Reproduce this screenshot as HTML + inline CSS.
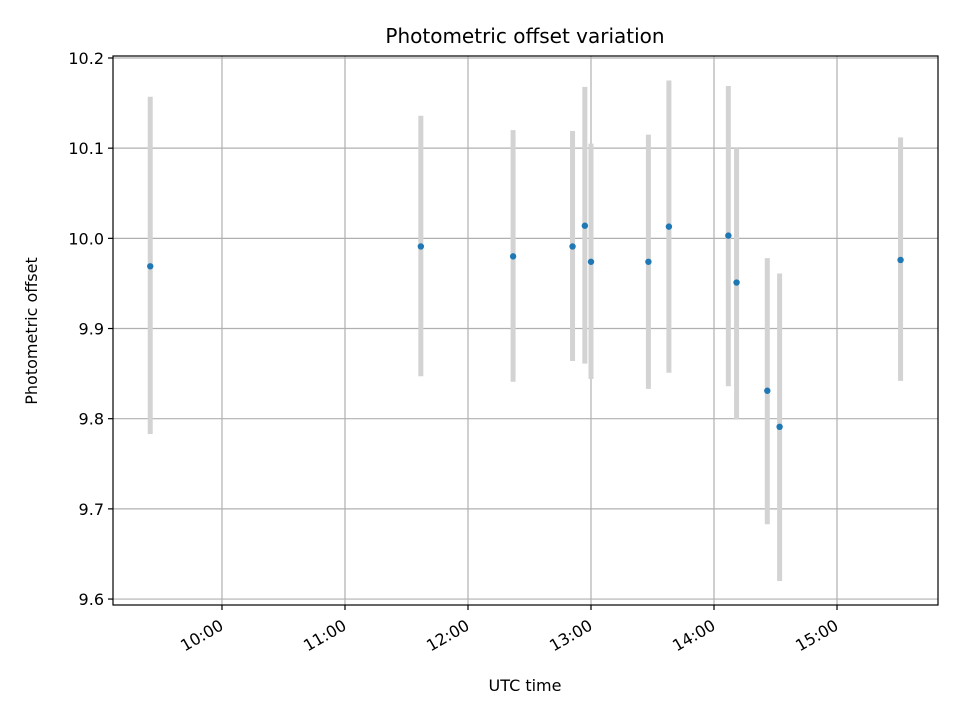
<!DOCTYPE html>
<html><head><meta charset="utf-8"><style>
body{margin:0;background:#fff}
svg{display:block;font-family:"DejaVu Sans","Liberation Sans",sans-serif}
</style></head><body>
<svg id="chart" width="960" height="720" viewBox="0 0 960 720">
<rect width="960" height="720" fill="#fff"/>
<g id="grid"></g><g id="bars"></g><g id="pts"></g><g id="ticks"></g>
<rect x="113" y="56" width="825" height="549" fill="none" stroke="#000" stroke-width="1.2"/>
<text x="525" y="43" text-anchor="middle" font-size="20">Photometric offset variation</text>
<text x="525" y="691" text-anchor="middle" font-size="16">UTC time</text>
<text transform="translate(37,331) rotate(-90)" text-anchor="middle" font-size="16">Photometric offset</text>
</svg>
<script>
const timesMin=[565,697,742,771,777,780,808,818,847,851,866,872,931];
const values=[9.969,9.991,9.980,9.991,10.014,9.974,9.974,10.013,10.003,9.951,9.831,9.791,9.976];
const errLow=[9.783,9.847,9.841,9.864,9.861,9.844,9.833,9.851,9.836,9.799,9.683,9.620,9.842];
const errHigh=[10.157,10.136,10.120,10.119,10.168,10.105,10.115,10.175,10.169,10.100,9.978,9.961,10.112];
const xTickHours=[10,11,12,13,14,15];
const xTickLabels=["10:00","11:00","12:00","13:00","14:00","15:00"];
const yTicks=[9.6,9.7,9.8,9.9,10.0,10.1,10.2];
const yTickLabels=["9.6","9.7","9.8","9.9","10.0","10.1","10.2"];
const L=113,R=938,T=56,B=605;
const xMin=9.114*60,xMax=15.821*60,yMin=9.5934,yMax=10.2022;
const X=m=>L+(m-xMin)/(xMax-xMin)*(R-L);
const Y=v=>B-(v-yMin)/(yMax-yMin)*(B-T);
const NS="http://www.w3.org/2000/svg";
function mk(tag,parent,attrs){const e=document.createElementNS(NS,tag);for(const k in attrs)e.setAttribute(k,attrs[k]);document.getElementById(parent).appendChild(e);return e;}
xTickHours.forEach((h,i)=>{const x=X(h*60);
 let g=mk('line','grid',{x1:x,x2:x,y1:T,y2:B,stroke:'#b0b0b0','stroke-width':1.2});
 
 
 let t=mk('line','ticks',{x1:x,x2:x,y1:B,y2:B+5,stroke:'#000','stroke-width':1.2});
 
 
 let l=mk('text','ticks',{'font-size':16,'text-anchor':'end',transform:`translate(${x-3},${B+14}) rotate(-30)`,dy:'0.7em'});
 l.textContent=xTickLabels[i];
 
 
});
yTicks.forEach((v,i)=>{const y=Y(v);
 let g=mk('line','grid',{x1:L,x2:R,y1:y,y2:y,stroke:'#b0b0b0','stroke-width':1.2});
 
 
 let t=mk('line','ticks',{x1:L-5,x2:L,y1:y,y2:y,stroke:'#000','stroke-width':1.2});
 
 
 let l=mk('text','ticks',{'font-size':16,'text-anchor':'end',x:L-9,y:y+6});
 l.textContent=yTickLabels[i];
 
 
});
timesMin.forEach((m,i)=>{const x=X(m);
 let b=mk('line','bars',{x1:x,x2:x,y1:Y(errHigh[i]),y2:Y(errLow[i]),stroke:'#d3d3d3','stroke-width':5});
 
 
 let p=mk('circle','pts',{cx:x,cy:Y(values[i]),r:3.2,fill:'#1f77b4'});
 
 
});
</script>
</body></html>
